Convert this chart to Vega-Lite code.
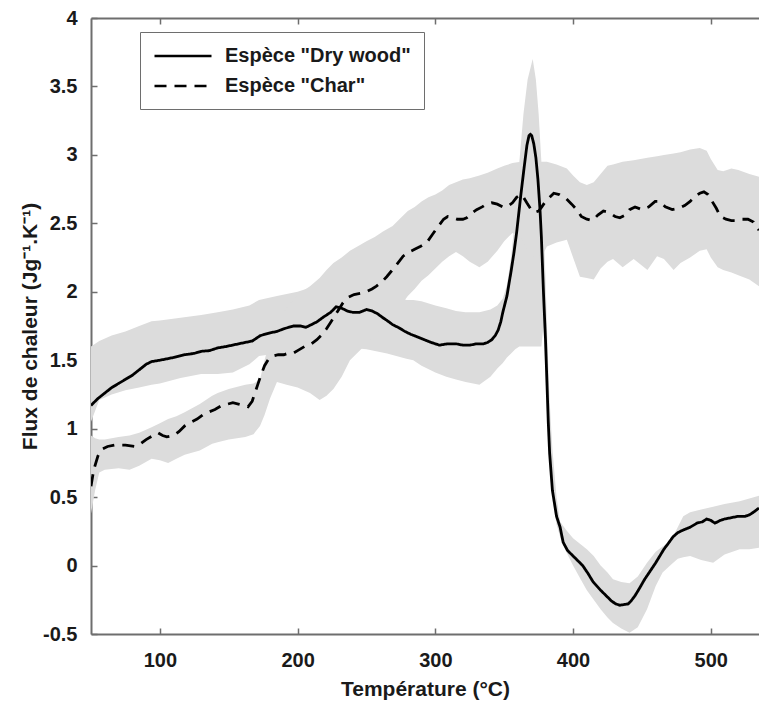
{
  "$schema": "https://vega.github.io/schema/vega-lite/v6.json",
  "autosize": "none",
  "width": 668,
  "height": 616,
  "padding": {"left": 91, "top": 18, "right": 0, "bottom": 68},
  "background": "white",
  "datasets": {
    "lines": [
      {"T":50,"v":1.17,"s":"D"},{"T":55,"v":1.22,"s":"D"},{"T":60,"v":1.26,"s":"D"},{"T":65,"v":1.30,"s":"D"},{"T":70,"v":1.33,"s":"D"},{"T":75,"v":1.36,"s":"D"},{"T":80,"v":1.39,"s":"D"},{"T":85,"v":1.43,"s":"D"},{"T":90,"v":1.47,"s":"D"},{"T":94,"v":1.49,"s":"D"},{"T":100,"v":1.50,"s":"D"},{"T":105,"v":1.51,"s":"D"},{"T":110,"v":1.52,"s":"D"},{"T":118,"v":1.54,"s":"D"},{"T":125,"v":1.55,"s":"D"},{"T":130,"v":1.565,"s":"D"},{"T":136,"v":1.57,"s":"D"},{"T":142,"v":1.59,"s":"D"},{"T":148,"v":1.60,"s":"D"},{"T":155,"v":1.615,"s":"D"},{"T":162,"v":1.63,"s":"D"},{"T":167,"v":1.64,"s":"D"},{"T":173,"v":1.68,"s":"D"},{"T":180,"v":1.70,"s":"D"},{"T":185,"v":1.71,"s":"D"},{"T":190,"v":1.73,"s":"D"},{"T":197,"v":1.75,"s":"D"},{"T":202,"v":1.75,"s":"D"},{"T":206,"v":1.74,"s":"D"},{"T":210,"v":1.76,"s":"D"},{"T":214,"v":1.78,"s":"D"},{"T":218,"v":1.81,"s":"D"},{"T":224,"v":1.85,"s":"D"},{"T":228,"v":1.89,"s":"D"},{"T":232,"v":1.88,"s":"D"},{"T":236,"v":1.86,"s":"D"},{"T":240,"v":1.85,"s":"D"},{"T":245,"v":1.85,"s":"D"},{"T":250,"v":1.87,"s":"D"},{"T":254,"v":1.86,"s":"D"},{"T":258,"v":1.84,"s":"D"},{"T":262,"v":1.81,"s":"D"},{"T":265,"v":1.79,"s":"D"},{"T":269,"v":1.76,"s":"D"},{"T":273,"v":1.74,"s":"D"},{"T":278,"v":1.71,"s":"D"},{"T":282,"v":1.69,"s":"D"},{"T":287,"v":1.67,"s":"D"},{"T":292,"v":1.65,"s":"D"},{"T":297,"v":1.63,"s":"D"},{"T":303,"v":1.61,"s":"D"},{"T":309,"v":1.62,"s":"D"},{"T":315,"v":1.62,"s":"D"},{"T":320,"v":1.61,"s":"D"},{"T":325,"v":1.61,"s":"D"},{"T":330,"v":1.62,"s":"D"},{"T":335,"v":1.62,"s":"D"},{"T":338,"v":1.63,"s":"D"},{"T":341,"v":1.65,"s":"D"},{"T":343.5,"v":1.68,"s":"D"},{"T":345.6,"v":1.72,"s":"D"},{"T":347.5,"v":1.78,"s":"D"},{"T":349,"v":1.85,"s":"D"},{"T":352,"v":1.97,"s":"D"},{"T":355,"v":2.15,"s":"D"},{"T":357,"v":2.28,"s":"D"},{"T":359,"v":2.43,"s":"D"},{"T":362,"v":2.70,"s":"D"},{"T":364.5,"v":2.91,"s":"D"},{"T":366.5,"v":3.07,"s":"D"},{"T":368,"v":3.14,"s":"D"},{"T":369,"v":3.15,"s":"D"},{"T":370,"v":3.14,"s":"D"},{"T":371.5,"v":3.08,"s":"D"},{"T":373,"v":2.98,"s":"D"},{"T":374.5,"v":2.82,"s":"D"},{"T":376,"v":2.6,"s":"D"},{"T":377,"v":2.40,"s":"D"},{"T":378.5,"v":2.0,"s":"D"},{"T":380,"v":1.65,"s":"D"},{"T":381,"v":1.35,"s":"D"},{"T":382,"v":1.05,"s":"D"},{"T":383,"v":0.82,"s":"D"},{"T":385,"v":0.55,"s":"D"},{"T":388,"v":0.36,"s":"D"},{"T":390.6,"v":0.28,"s":"D"},{"T":392.8,"v":0.17,"s":"D"},{"T":396,"v":0.11,"s":"D"},{"T":400,"v":0.07,"s":"D"},{"T":404,"v":0.03,"s":"D"},{"T":407,"v":0.0,"s":"D"},{"T":411,"v":-0.06,"s":"D"},{"T":414.6,"v":-0.12,"s":"D"},{"T":420,"v":-0.18,"s":"D"},{"T":424,"v":-0.22,"s":"D"},{"T":428,"v":-0.26,"s":"D"},{"T":431,"v":-0.28,"s":"D"},{"T":434,"v":-0.29,"s":"D"},{"T":437,"v":-0.285,"s":"D"},{"T":440,"v":-0.28,"s":"D"},{"T":442,"v":-0.26,"s":"D"},{"T":445,"v":-0.22,"s":"D"},{"T":448,"v":-0.17,"s":"D"},{"T":452,"v":-0.10,"s":"D"},{"T":456,"v":-0.04,"s":"D"},{"T":460,"v":0.02,"s":"D"},{"T":463,"v":0.07,"s":"D"},{"T":466,"v":0.12,"s":"D"},{"T":469,"v":0.16,"s":"D"},{"T":472.6,"v":0.21,"s":"D"},{"T":476,"v":0.24,"s":"D"},{"T":480,"v":0.26,"s":"D"},{"T":485,"v":0.28,"s":"D"},{"T":490,"v":0.31,"s":"D"},{"T":494,"v":0.32,"s":"D"},{"T":497,"v":0.34,"s":"D"},{"T":500,"v":0.33,"s":"D"},{"T":503,"v":0.31,"s":"D"},{"T":507,"v":0.33,"s":"D"},{"T":510,"v":0.34,"s":"D"},{"T":515,"v":0.35,"s":"D"},{"T":520,"v":0.36,"s":"D"},{"T":525,"v":0.36,"s":"D"},{"T":528,"v":0.37,"s":"D"},{"T":531,"v":0.39,"s":"D"},{"T":535,"v":0.42,"s":"D"},
      {"T":50,"v":0.58,"s":"C"},{"T":52,"v":0.70,"s":"C"},{"T":55,"v":0.80,"s":"C"},{"T":58,"v":0.85,"s":"C"},{"T":62,"v":0.87,"s":"C"},{"T":67,"v":0.88,"s":"C"},{"T":75,"v":0.88,"s":"C"},{"T":82,"v":0.87,"s":"C"},{"T":86,"v":0.89,"s":"C"},{"T":90,"v":0.92,"s":"C"},{"T":95,"v":0.95,"s":"C"},{"T":98.6,"v":0.97,"s":"C"},{"T":102,"v":0.95,"s":"C"},{"T":105,"v":0.94,"s":"C"},{"T":110,"v":0.95,"s":"C"},{"T":114,"v":0.98,"s":"C"},{"T":118,"v":1.02,"s":"C"},{"T":123,"v":1.05,"s":"C"},{"T":127,"v":1.07,"s":"C"},{"T":131,"v":1.10,"s":"C"},{"T":135,"v":1.12,"s":"C"},{"T":140,"v":1.14,"s":"C"},{"T":145,"v":1.17,"s":"C"},{"T":149.5,"v":1.18,"s":"C"},{"T":153,"v":1.19,"s":"C"},{"T":157,"v":1.18,"s":"C"},{"T":161,"v":1.17,"s":"C"},{"T":164,"v":1.16,"s":"C"},{"T":167,"v":1.20,"s":"C"},{"T":169,"v":1.26,"s":"C"},{"T":171,"v":1.32,"s":"C"},{"T":173,"v":1.38,"s":"C"},{"T":176,"v":1.46,"s":"C"},{"T":179,"v":1.51,"s":"C"},{"T":182,"v":1.53,"s":"C"},{"T":186,"v":1.54,"s":"C"},{"T":190,"v":1.54,"s":"C"},{"T":193,"v":1.55,"s":"C"},{"T":196.7,"v":1.55,"s":"C"},{"T":200,"v":1.57,"s":"C"},{"T":205,"v":1.60,"s":"C"},{"T":210,"v":1.62,"s":"C"},{"T":214,"v":1.65,"s":"C"},{"T":218,"v":1.69,"s":"C"},{"T":221,"v":1.73,"s":"C"},{"T":223.6,"v":1.77,"s":"C"},{"T":228,"v":1.84,"s":"C"},{"T":233,"v":1.92,"s":"C"},{"T":237,"v":1.96,"s":"C"},{"T":241,"v":1.98,"s":"C"},{"T":246,"v":1.99,"s":"C"},{"T":250,"v":2.0,"s":"C"},{"T":254,"v":2.02,"s":"C"},{"T":257,"v":2.04,"s":"C"},{"T":261,"v":2.07,"s":"C"},{"T":264.7,"v":2.11,"s":"C"},{"T":268,"v":2.15,"s":"C"},{"T":272,"v":2.20,"s":"C"},{"T":276.6,"v":2.26,"s":"C"},{"T":281,"v":2.29,"s":"C"},{"T":285,"v":2.31,"s":"C"},{"T":289,"v":2.33,"s":"C"},{"T":293.8,"v":2.36,"s":"C"},{"T":298,"v":2.42,"s":"C"},{"T":303,"v":2.49,"s":"C"},{"T":306,"v":2.53,"s":"C"},{"T":309,"v":2.55,"s":"C"},{"T":313,"v":2.54,"s":"C"},{"T":316,"v":2.53,"s":"C"},{"T":320,"v":2.53,"s":"C"},{"T":322.8,"v":2.54,"s":"C"},{"T":326,"v":2.57,"s":"C"},{"T":330,"v":2.60,"s":"C"},{"T":334,"v":2.62,"s":"C"},{"T":337,"v":2.64,"s":"C"},{"T":341,"v":2.65,"s":"C"},{"T":345,"v":2.64,"s":"C"},{"T":349,"v":2.62,"s":"C"},{"T":352,"v":2.62,"s":"C"},{"T":356,"v":2.65,"s":"C"},{"T":359,"v":2.69,"s":"C"},{"T":362,"v":2.71,"s":"C"},{"T":364,"v":2.69,"s":"C"},{"T":366.4,"v":2.65,"s":"C"},{"T":369,"v":2.61,"s":"C"},{"T":372,"v":2.58,"s":"C"},{"T":375,"v":2.59,"s":"C"},{"T":377.3,"v":2.62,"s":"C"},{"T":380,"v":2.66,"s":"C"},{"T":383,"v":2.69,"s":"C"},{"T":386,"v":2.72,"s":"C"},{"T":390,"v":2.71,"s":"C"},{"T":395,"v":2.68,"s":"C"},{"T":399,"v":2.64,"s":"C"},{"T":402.7,"v":2.60,"s":"C"},{"T":406,"v":2.55,"s":"C"},{"T":410,"v":2.53,"s":"C"},{"T":414,"v":2.52,"s":"C"},{"T":418,"v":2.56,"s":"C"},{"T":422,"v":2.59,"s":"C"},{"T":426,"v":2.58,"s":"C"},{"T":430.5,"v":2.55,"s":"C"},{"T":434,"v":2.54,"s":"C"},{"T":438,"v":2.56,"s":"C"},{"T":441,"v":2.60,"s":"C"},{"T":445,"v":2.62,"s":"C"},{"T":450,"v":2.60,"s":"C"},{"T":455,"v":2.62,"s":"C"},{"T":459.6,"v":2.66,"s":"C"},{"T":463,"v":2.66,"s":"C"},{"T":467,"v":2.62,"s":"C"},{"T":472,"v":2.60,"s":"C"},{"T":477,"v":2.61,"s":"C"},{"T":481,"v":2.63,"s":"C"},{"T":485,"v":2.66,"s":"C"},{"T":489,"v":2.70,"s":"C"},{"T":492,"v":2.72,"s":"C"},{"T":495,"v":2.73,"s":"C"},{"T":498,"v":2.71,"s":"C"},{"T":501,"v":2.66,"s":"C"},{"T":504,"v":2.61,"s":"C"},{"T":507,"v":2.55,"s":"C"},{"T":511,"v":2.53,"s":"C"},{"T":515,"v":2.52,"s":"C"},{"T":519,"v":2.52,"s":"C"},{"T":523,"v":2.53,"s":"C"},{"T":527,"v":2.53,"s":"C"},{"T":531,"v":2.51,"s":"C"},{"T":535,"v":2.45,"s":"C"}
    ],
    "bands": [
      {"T":50,"lo":1.05,"hi":1.60,"s":"D"},{"T":56,"lo":1.21,"hi":1.64,"s":"D"},{"T":65,"lo":1.25,"hi":1.68,"s":"D"},{"T":75,"lo":1.28,"hi":1.71,"s":"D"},{"T":85,"lo":1.30,"hi":1.75,"s":"D"},{"T":94,"lo":1.32,"hi":1.785,"s":"D"},{"T":100,"lo":1.33,"hi":1.79,"s":"D"},{"T":115,"lo":1.37,"hi":1.81,"s":"D"},{"T":130,"lo":1.40,"hi":1.83,"s":"D"},{"T":142,"lo":1.40,"hi":1.85,"s":"D"},{"T":153,"lo":1.41,"hi":1.87,"s":"D"},{"T":165,"lo":1.47,"hi":1.90,"s":"D"},{"T":172,"lo":1.53,"hi":1.94,"s":"D"},{"T":185,"lo":1.55,"hi":1.97,"s":"D"},{"T":200,"lo":1.55,"hi":2.0,"s":"D"},{"T":215,"lo":1.57,"hi":2.05,"s":"D"},{"T":230,"lo":1.60,"hi":2.10,"s":"D"},{"T":250,"lo":1.58,"hi":2.05,"s":"D"},{"T":265,"lo":1.55,"hi":2.0,"s":"D"},{"T":279,"lo":1.51,"hi":1.94,"s":"D"},{"T":284,"lo":1.50,"hi":1.94,"s":"D"},{"T":290,"lo":1.46,"hi":1.93,"s":"D"},{"T":300,"lo":1.41,"hi":1.90,"s":"D"},{"T":308,"lo":1.38,"hi":1.88,"s":"D"},{"T":315,"lo":1.36,"hi":1.86,"s":"D"},{"T":322,"lo":1.34,"hi":1.85,"s":"D"},{"T":332,"lo":1.32,"hi":1.85,"s":"D"},{"T":340,"lo":1.38,"hi":1.87,"s":"D"},{"T":345,"lo":1.44,"hi":1.90,"s":"D"},{"T":349,"lo":1.48,"hi":1.95,"s":"D"},{"T":352,"lo":1.52,"hi":2.05,"s":"D"},{"T":355,"lo":1.55,"hi":2.25,"s":"D"},{"T":358,"lo":1.58,"hi":2.55,"s":"D"},{"T":361,"lo":1.60,"hi":2.95,"s":"D"},{"T":364,"lo":1.60,"hi":3.30,"s":"D"},{"T":367,"lo":1.60,"hi":3.55,"s":"D"},{"T":370.7,"lo":1.60,"hi":3.70,"s":"D"},{"T":373,"lo":1.60,"hi":3.55,"s":"D"},{"T":375,"lo":1.60,"hi":3.30,"s":"D"},{"T":377,"lo":1.60,"hi":2.95,"s":"D"},{"T":378.5,"lo":1.75,"hi":2.5,"s":"D"},{"T":380,"lo":1.4,"hi":2.1,"s":"D"},{"T":381.5,"lo":1.0,"hi":1.6,"s":"D"},{"T":383,"lo":0.72,"hi":1.2,"s":"D"},{"T":385,"lo":0.48,"hi":0.85,"s":"D"},{"T":388,"lo":0.30,"hi":0.5,"s":"D"},{"T":390.6,"lo":0.21,"hi":0.32,"s":"D"},{"T":395,"lo":0.10,"hi":0.26,"s":"D"},{"T":400,"lo":0.0,"hi":0.2,"s":"D"},{"T":405,"lo":-0.09,"hi":0.16,"s":"D"},{"T":410,"lo":-0.18,"hi":0.12,"s":"D"},{"T":415,"lo":-0.25,"hi":0.07,"s":"D"},{"T":420,"lo":-0.32,"hi":0.0,"s":"D"},{"T":425,"lo":-0.38,"hi":-0.05,"s":"D"},{"T":429,"lo":-0.42,"hi":-0.10,"s":"D"},{"T":435,"lo":-0.46,"hi":-0.12,"s":"D"},{"T":441,"lo":-0.49,"hi":-0.13,"s":"D"},{"T":447,"lo":-0.45,"hi":-0.08,"s":"D"},{"T":453.7,"lo":-0.32,"hi":0.02,"s":"D"},{"T":460,"lo":-0.15,"hi":0.10,"s":"D"},{"T":465,"lo":-0.05,"hi":0.14,"s":"D"},{"T":470.5,"lo":0.0,"hi":0.17,"s":"D"},{"T":476,"lo":0.05,"hi":0.28,"s":"D"},{"T":480,"lo":0.06,"hi":0.36,"s":"D"},{"T":485,"lo":0.07,"hi":0.39,"s":"D"},{"T":493,"lo":0.04,"hi":0.41,"s":"D"},{"T":501.7,"lo":0.02,"hi":0.43,"s":"D"},{"T":510,"lo":0.08,"hi":0.45,"s":"D"},{"T":521,"lo":0.12,"hi":0.47,"s":"D"},{"T":528,"lo":0.12,"hi":0.49,"s":"D"},{"T":535,"lo":0.13,"hi":0.51,"s":"D"},
      {"T":50,"lo":0.38,"hi":0.95,"s":"C"},{"T":53,"lo":0.55,"hi":0.93,"s":"C"},{"T":56,"lo":0.68,"hi":0.92,"s":"C"},{"T":60,"lo":0.70,"hi":0.92,"s":"C"},{"T":70,"lo":0.71,"hi":0.94,"s":"C"},{"T":78,"lo":0.70,"hi":0.95,"s":"C"},{"T":85,"lo":0.73,"hi":0.97,"s":"C"},{"T":94,"lo":0.78,"hi":1.01,"s":"C"},{"T":100,"lo":0.77,"hi":1.04,"s":"C"},{"T":106,"lo":0.75,"hi":1.07,"s":"C"},{"T":112,"lo":0.78,"hi":1.09,"s":"C"},{"T":118,"lo":0.81,"hi":1.12,"s":"C"},{"T":129,"lo":0.84,"hi":1.18,"s":"C"},{"T":138,"lo":0.89,"hi":1.24,"s":"C"},{"T":142,"lo":0.90,"hi":1.26,"s":"C"},{"T":150,"lo":0.92,"hi":1.29,"s":"C"},{"T":162,"lo":0.94,"hi":1.32,"s":"C"},{"T":168,"lo":0.96,"hi":1.33,"s":"C"},{"T":172.7,"lo":1.02,"hi":1.36,"s":"C"},{"T":176,"lo":1.10,"hi":1.50,"s":"C"},{"T":180,"lo":1.22,"hi":1.65,"s":"C"},{"T":185,"lo":1.34,"hi":1.78,"s":"C"},{"T":192,"lo":1.32,"hi":1.88,"s":"C"},{"T":200,"lo":1.30,"hi":1.98,"s":"C"},{"T":209,"lo":1.26,"hi":2.04,"s":"C"},{"T":216,"lo":1.21,"hi":2.10,"s":"C"},{"T":221,"lo":1.24,"hi":2.16,"s":"C"},{"T":226,"lo":1.29,"hi":2.21,"s":"C"},{"T":232,"lo":1.38,"hi":2.25,"s":"C"},{"T":238,"lo":1.50,"hi":2.30,"s":"C"},{"T":245,"lo":1.57,"hi":2.34,"s":"C"},{"T":250,"lo":1.62,"hi":2.37,"s":"C"},{"T":256,"lo":1.68,"hi":2.40,"s":"C"},{"T":262,"lo":1.75,"hi":2.44,"s":"C"},{"T":269,"lo":1.84,"hi":2.48,"s":"C"},{"T":275,"lo":1.90,"hi":2.54,"s":"C"},{"T":280,"lo":1.97,"hi":2.59,"s":"C"},{"T":285,"lo":2.02,"hi":2.62,"s":"C"},{"T":290,"lo":2.08,"hi":2.66,"s":"C"},{"T":295,"lo":2.12,"hi":2.69,"s":"C"},{"T":300,"lo":2.17,"hi":2.71,"s":"C"},{"T":305,"lo":2.22,"hi":2.74,"s":"C"},{"T":310,"lo":2.26,"hi":2.78,"s":"C"},{"T":315,"lo":2.29,"hi":2.80,"s":"C"},{"T":320,"lo":2.26,"hi":2.82,"s":"C"},{"T":325,"lo":2.22,"hi":2.83,"s":"C"},{"T":332,"lo":2.18,"hi":2.85,"s":"C"},{"T":338,"lo":2.22,"hi":2.87,"s":"C"},{"T":345,"lo":2.30,"hi":2.90,"s":"C"},{"T":350,"lo":2.37,"hi":2.92,"s":"C"},{"T":356,"lo":2.43,"hi":2.94,"s":"C"},{"T":362,"lo":2.40,"hi":2.95,"s":"C"},{"T":367,"lo":2.30,"hi":2.95,"s":"C"},{"T":372,"lo":2.25,"hi":2.95,"s":"C"},{"T":378,"lo":2.27,"hi":2.95,"s":"C"},{"T":381,"lo":2.33,"hi":2.95,"s":"C"},{"T":388,"lo":2.36,"hi":2.93,"s":"C"},{"T":395.5,"lo":2.38,"hi":2.90,"s":"C"},{"T":400,"lo":2.25,"hi":2.85,"s":"C"},{"T":405,"lo":2.11,"hi":2.80,"s":"C"},{"T":410,"lo":2.10,"hi":2.78,"s":"C"},{"T":415,"lo":2.09,"hi":2.80,"s":"C"},{"T":420,"lo":2.17,"hi":2.86,"s":"C"},{"T":425,"lo":2.22,"hi":2.92,"s":"C"},{"T":429,"lo":2.24,"hi":2.93,"s":"C"},{"T":436,"lo":2.18,"hi":2.95,"s":"C"},{"T":444,"lo":2.24,"hi":2.96,"s":"C"},{"T":449,"lo":2.20,"hi":2.97,"s":"C"},{"T":454,"lo":2.16,"hi":2.98,"s":"C"},{"T":461,"lo":2.26,"hi":2.99,"s":"C"},{"T":466,"lo":2.24,"hi":3.00,"s":"C"},{"T":473,"lo":2.16,"hi":3.01,"s":"C"},{"T":478,"lo":2.21,"hi":3.02,"s":"C"},{"T":485,"lo":2.25,"hi":3.04,"s":"C"},{"T":492,"lo":2.30,"hi":3.05,"s":"C"},{"T":497,"lo":2.31,"hi":3.03,"s":"C"},{"T":500,"lo":2.25,"hi":2.97,"s":"C"},{"T":505,"lo":2.18,"hi":2.89,"s":"C"},{"T":509,"lo":2.16,"hi":2.88,"s":"C"},{"T":515,"lo":2.14,"hi":2.90,"s":"C"},{"T":520,"lo":2.12,"hi":2.89,"s":"C"},{"T":528,"lo":2.09,"hi":2.86,"s":"C"},{"T":535,"lo":2.04,"hi":2.84,"s":"C"}
    ]
  },
  "layer": [
    {
      "data": {"name": "bands"},
      "mark": {"type": "area", "color": "#dcdcdc", "opacity": 1, "clip": true},
      "encoding": {
        "x": {"field": "T", "type": "quantitative", "scale": {"domain": [50, 535], "nice": false, "zero": false},
              "axis": {"orient": "top", "labels": false, "title": null, "values": [100, 200, 300, 400, 500]}},
        "y": {"field": "lo", "type": "quantitative", "scale": {"domain": [-0.5, 4], "nice": false, "zero": false},
              "axis": {"title": "Flux de chaleur (Jg⁻¹.K⁻¹)", "values": [-0.5, 0, 0.5, 1, 1.5, 2, 2.5, 3, 3.5, 4], "labelExpr": "datum.value + ''"}},
        "y2": {"field": "hi"},
        "detail": {"field": "s"}
      }
    },
    {
      "data": {"name": "lines"},
      "mark": {"type": "line", "color": "black", "strokeWidth": 2.8, "clip": true},
      "encoding": {
        "x": {"field": "T", "type": "quantitative",
              "axis": {"orient": "bottom", "title": "Température (°C)", "values": [100, 200, 300, 400, 500], "labelExpr": "datum.value + ''"}},
        "y": {"field": "v", "type": "quantitative",
              "axis": {"title": "Flux de chaleur (Jg⁻¹.K⁻¹)", "values": [-0.5, 0, 0.5, 1, 1.5, 2, 2.5, 3, 3.5, 4], "labelExpr": "datum.value + ''"}},
        "strokeDash": {"field": "s", "type": "nominal",
                       "scale": {"domain": ["D", "C"], "range": [[1, 0], [12, 8]]},
                       "legend": {"orient": "none", "legendX": 49, "legendY": 14, "title": null,
                                  "labelExpr": "datum.value == 'D' ? 'Espèce \"Dry wood\"' : 'Espèce \"Char\"'"}}
      }
    }
  ],
  "resolve": {"axis": {"x": "independent"}},
  "config": {
    "view": {"stroke": null},
    "axis": {
      "grid": false,
      "domainColor": "#6e6e6e", "domainWidth": 2,
      "tickColor": "#6e6e6e", "tickWidth": 1.5, "tickSize": -6,
      "labelFont": "Liberation Sans", "labelFontWeight": "bold", "labelFontSize": 20, "labelColor": "#1a1a1a",
      "titleFont": "Liberation Sans", "titleFontWeight": "bold", "titleFontSize": 21, "titleColor": "#1a1a1a"
    },
    "axisLeft": {"labelPadding": 20, "titlePadding": 2},
    "axisBottom": {"labelPadding": 22, "titlePadding": 8},
    "legend": {
      "strokeColor": "#6e6e6e", "fillColor": "white", "padding": 13,
      "symbolType": "M-1,0H5", "symbolSize": 361, "symbolStrokeWidth": 2.5, "symbolStrokeColor": "black", "symbolFillColor": "transparent",
      "labelFont": "Liberation Sans", "labelFontWeight": "bold", "labelFontSize": 20, "labelColor": "#1a1a1a",
      "labelOffset": 50, "rowPadding": 9, "labelLimit": 400
    }
  }
}
